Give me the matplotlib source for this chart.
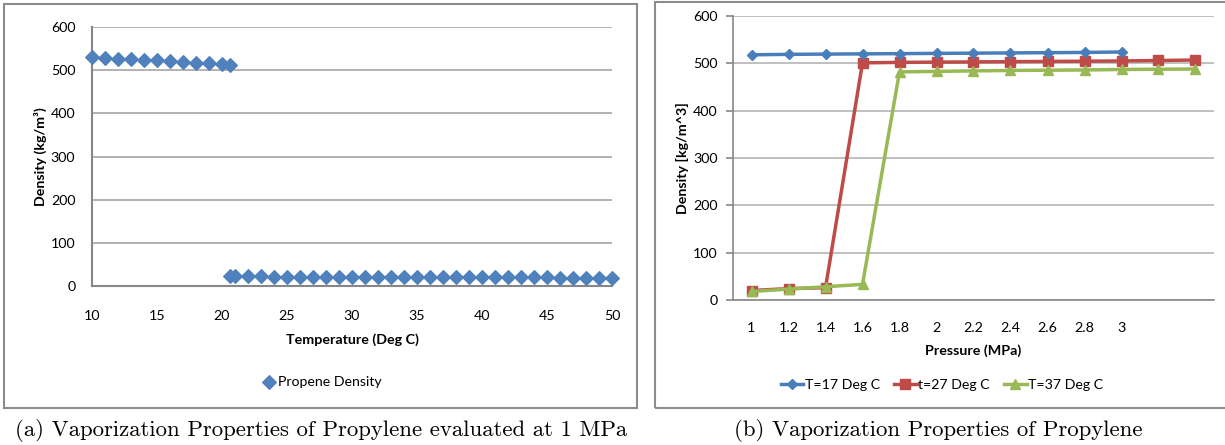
import matplotlib.pyplot as plt
from matplotlib.patches import Rectangle

# (a) density vs temperature at 1 MPa
temp_liquid = [10, 11, 12, 13, 14, 15, 16, 17, 18, 19, 20, 20.6]
dens_liquid = [530, 528.5, 527, 525.5, 524, 522.5, 521, 519.5, 517.5, 515.5, 513.5, 512.5]
temp_vapor = [20.6] + list(range(21, 51))
dens_vapor = [22.8, 22.5, 22.3, 22.1, 22.0, 21.8, 21.7, 21.5, 21.4, 21.2, 21.1,
              21.0, 20.9, 20.8, 20.7, 20.6, 20.5, 20.4, 20.3, 20.2, 20.1, 20.0,
              19.9, 19.8, 19.8, 19.7, 19.6, 19.5, 19.5, 19.4, 19.3]

# (b) density vs pressure for three temperatures
pressure_labels = ['1', '1.2', '1.4', '1.6', '1.8', '2', '2.2', '2.4', '2.6', '2.8', '3']
dens_t17 = [518, 519, 519.5, 520, 520.5, 521, 521.5, 522, 522.5, 523, 524]
dens_t27 = [20, 24, 26, 501, 502, 502.5, 503, 503.5, 504, 504.5, 505, 506, 507]
dens_t37 = [18, 23, 28, 33, 482, 483, 484, 485, 485.5, 486, 487, 487.5, 488]

plt.rcParams['font.family'] = ['Lato', 'DejaVu Sans']
W, H = 1225, 445
fig = plt.figure(figsize=(W / 100, H / 100), dpi=100)

def fx(px):
    return px / W

def fy(py):
    return 1 - py / H

# chart frames
fig.patches.append(Rectangle((fx(4), fy(408)), fx(633), 404 / H, transform=fig.transFigure,
                             fill=False, edgecolor='#8C8C8C', lw=1.5))
fig.patches.append(Rectangle((fx(655), fy(408)), fx(580), 406 / H, transform=fig.transFigure,
                             fill=False, edgecolor='#8C8C8C', lw=1.5))

# ---- left chart
ax1 = fig.add_axes([fx(92), fy(286), fx(612 - 92), (286 - 27) / H])
ax1.scatter(temp_liquid, dens_liquid, marker='D', s=48, color='#4F81BD', zorder=3, clip_on=False)
ax1.scatter(temp_vapor, dens_vapor, marker='D', s=48, color='#4F81BD', zorder=3, clip_on=False,
            label='Propene Density')
ax1.set_xlim(10, 50)
ax1.set_ylim(0, 600)
ax1.set_xticks(range(10, 51, 5))
ax1.set_yticks(range(0, 601, 100))
ax1.grid(axis='y', color='#A6A6A6', lw=1.2)
ax1.set_axisbelow(True)
for s in ['top', 'right']:
    ax1.spines[s].set_visible(False)
for s in ['left', 'bottom']:
    ax1.spines[s].set_color('#878787')
    ax1.spines[s].set_linewidth(1.5)
ax1.tick_params(length=0, labelsize=10.3, colors='#000000')
ax1.tick_params(axis='x', pad=17)
ax1.tick_params(axis='y', pad=12)
ax1.set_xlabel('Temperature (Deg C)', fontsize=10.3, fontweight='bold', va='center')
ax1.xaxis.set_label_coords(0.5, (286 - 340) / 259)
ax1.set_ylabel('Density (kg/m³)', fontsize=10.3, fontweight='bold', va='center')
ax1.yaxis.set_label_coords((40 - 92) / 520, 0.5)
fig.legend(*ax1.get_legend_handles_labels(), loc='center', bbox_to_anchor=(fx(322), fy(382)),
           frameon=False, fontsize=10.2, handletextpad=0.1, handlelength=1)

# ---- right chart
ax2 = fig.add_axes([fx(733), fy(300), fx(1214 - 733), (300 - 16) / H])
ax2.plot(range(len(dens_t17)), dens_t17, color='#4A7EBB', lw=2.5, marker='D', ms=5,
         label='T=17 Deg C', clip_on=False, zorder=4)
ax2.plot(range(len(dens_t27)), dens_t27, color='#BE4B48', lw=2.5, marker='s', ms=7,
         label='t=27 Deg C', clip_on=False, zorder=3)
ax2.plot(range(len(dens_t37)), dens_t37, color='#98B954', lw=2.5, marker='^', ms=7,
         label='T=37 Deg C', clip_on=False, zorder=3)
ax2.set_xlim(-0.5, len(dens_t27) - 0.5)
ax2.set_ylim(0, 600)
ax2.set_xticks(range(len(pressure_labels)))
ax2.set_xticklabels(pressure_labels)
ax2.set_yticks(range(0, 601, 100))
ax2.grid(axis='y', color='#B5B5B5', lw=1.2)
ax2.set_axisbelow(True)
for s in ['top', 'right']:
    ax2.spines[s].set_visible(False)
for s in ['left', 'bottom']:
    ax2.spines[s].set_color('#878787')
    ax2.spines[s].set_linewidth(1.2)
ax2.tick_params(labelsize=10.3, colors='#000000')
ax2.tick_params(axis='x', length=0, pad=16)
ax2.tick_params(axis='y', length=5, width=1.2, color='#878787', pad=6)
ax2.set_xlabel('Pressure (MPa)', fontsize=10.3, fontweight='bold', va='center')
ax2.xaxis.set_label_coords(0.5, (300 - 351) / 284)
ax2.set_ylabel('Density [kg/m^3]', fontsize=10.3, fontweight='bold', va='center')
ax2.yaxis.set_label_coords((682 - 733) / 481, 0.5)
fig.legend(*ax2.get_legend_handles_labels(), loc='center', bbox_to_anchor=(fx(942), fy(385)),
           ncol=3, frameon=False, fontsize=10.2, handletextpad=0.1, handlelength=1.6,
           columnspacing=1.0)

# captions
fig.text(fx(321), fy(431), '(a) Vaporization Properties of Propylene evaluated at 1 MPa',
         family='cmr10', fontsize=16.4, ha='center', va='center')
fig.text(fx(938), fy(431), '(b) Vaporization Properties of Propylene',
         family='cmr10', fontsize=16.4, ha='center', va='center')

fig.savefig('out.png', dpi=100)
